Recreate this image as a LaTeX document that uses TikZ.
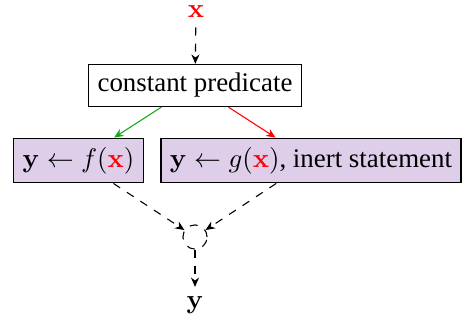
\documentclass[tikz,border=0pt]{standalone}
\usepackage[no-math]{fontspec}
\setmainfont{Liberation Serif}
\usepackage{xcolor}
\usetikzlibrary{arrows.meta,positioning}
\definecolor{stmtfill}{RGB}{222,206,234}
\definecolor{truegreen}{RGB}{20,170,20}
\begin{document}
\begin{tikzpicture}[x=0.372pt,y=-0.372pt,>={Stealth[length=3.5pt,width=3pt]},every node/.style={font=\normalsize,align=center},
  stmt/.style={draw,fill=stmtfill},flow/.style={->,dashed}]
\useasboundingbox (0,0) rectangle (462,329);
\node (xin) at (196,12) {$\mathbf{\color{red}x}$};
\node[draw] (pred) at (195,85.5) {constant predicate};
\node[stmt] (fbr) at (78.5,160.5) {$\mathbf{y}\leftarrow f(\mathbf{\color{red}x})$};
\node[stmt] (gbr) at (311,160.5) {$\mathbf{y}\leftarrow g(\mathbf{\color{red}x})$, inert statement};
\node[draw,dashed,circle,minimum size=9pt,inner sep=0pt] (merge) at (195,237) {};
\node (yout) at (195,305) {$\mathbf{y}$};
\draw[flow] (xin) -- (pred);
\draw[->,truegreen] (pred) -- (fbr);
\draw[->,red] (pred) -- (gbr);
\draw[flow] (fbr) -- (merge);
\draw[flow] (gbr) -- (merge);
\draw[flow] (merge) -- (yout);
\end{tikzpicture}
\end{document}
